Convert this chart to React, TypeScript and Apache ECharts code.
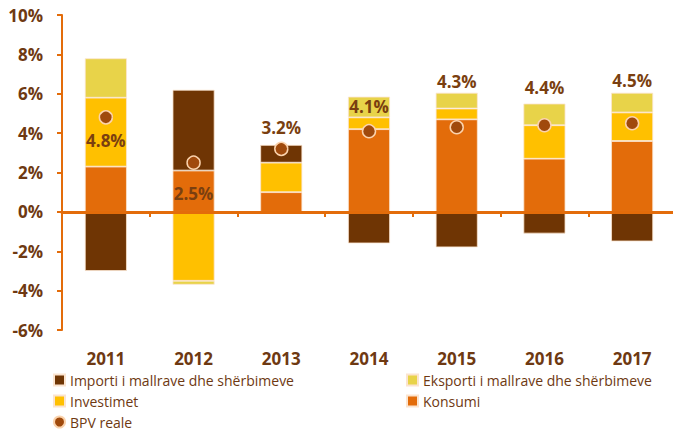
import React, { useEffect, useRef } from "react";
import * as echarts from "echarts";

const years = ["2011", "2012", "2013", "2014", "2015", "2016", "2017"];
const konsumi = [2.3, 2.1, 1.0, 4.2, 4.7, 2.7, 3.6];
const investimet = [3.5, -3.5, 1.5, 0.6, 0.55, 1.7, 1.45];
const importi = [-3.0, 4.1, 0.9, -1.6, -1.8, -1.1, -1.5];
const eksporti = [2.0, -0.2, -0.1, 1.05, 0.8, 1.1, 1.0];
const bpvReale = [4.8, 2.5, 3.2, 4.1, 4.3, 4.4, 4.5];

// vertical label shifts (px) for the GDP labels, relative to the marker
const labelShift = [23, 31, -21, -25, -46, -38, -43];

const FONT = "'Open Sans', 'Noto Sans', sans-serif";
const BROWN_TEXT = "#6e3912";

export default function App() {
  const ref = useRef<HTMLDivElement>(null);
  useEffect(() => {
    const chart = echarts.init(ref.current!, null, { renderer: "svg" });
    const barBase = {
      type: "bar" as const,
      stack: "total",
      barWidth: 42,
    };
    const border = { borderColor: "#fbe4cf", borderWidth: 0.8 };
    const legendText = { color: BROWN_TEXT, fontSize: 14, lineHeight: 14, fontFamily: FONT };
    chart.setOption({
      animation: false,
      textStyle: { fontFamily: FONT },
      grid: {
        left: 62,
        top: 15,
        bottom: 103,
        right: -3,
        containLabel: false,
        outerBoundsMode: "none",
      },
      legend: [
        {
          orient: "vertical",
          left: 53,
          top: 373,
          height: 70,
          itemWidth: 11,
          itemHeight: 11,
          itemGap: 7,
          padding: 0,
          textStyle: legendText,
          data: [
            { name: "Importi i mallrave dhe shërbimeve", icon: "rect" },
            { name: "Investimet", icon: "rect" },
            { name: "BPV reale", icon: "circle" },
          ],
        },
        {
          orient: "vertical",
          left: 406,
          top: 373,
          height: 70,
          itemWidth: 11,
          itemHeight: 11,
          itemGap: 7,
          padding: 0,
          textStyle: legendText,
          data: [
            { name: "Eksporti i mallrave dhe shërbimeve", icon: "rect" },
            { name: "Konsumi", icon: "rect" },
          ],
        },
      ],
      xAxis: {
        type: "category",
        data: years,
        axisLine: { onZero: true, lineStyle: { color: "#e36c0a", width: 3 } },
        axisTick: { show: true, length: 5, lineStyle: { color: "#e36c0a", width: 2 } },
        axisLabel: {
          margin: 20,
          color: BROWN_TEXT,
          fontSize: 17,
          lineHeight: 17,
          fontWeight: "bold",
          fontFamily: FONT,
        },
        z: 5,
      },
      yAxis: {
        type: "value",
        min: -6,
        max: 10,
        interval: 2,
        splitLine: { show: false },
        axisLine: { show: true, lineStyle: { color: "#e36c0a", width: 2 } },
        axisTick: { show: true, length: 5, lineStyle: { color: "#e36c0a", width: 2 } },
        axisLabel: {
          formatter: "{value}%",
          margin: 19,
          color: BROWN_TEXT,
          fontSize: 17,
          fontWeight: "bold",
          fontFamily: FONT,
        },
      },
      series: [
        {
          ...barBase,
          name: "Konsumi",
          data: konsumi,
          itemStyle: { color: "#e36c0a", ...border },
        },
        {
          ...barBase,
          name: "Investimet",
          data: investimet,
          itemStyle: { color: "#ffc000", ...border },
        },
        {
          ...barBase,
          name: "Importi i mallrave dhe shërbimeve",
          data: importi,
          itemStyle: { color: "#6f3504", ...border },
        },
        {
          ...barBase,
          name: "Eksporti i mallrave dhe shërbimeve",
          data: eksporti,
          itemStyle: { color: "#e8d349", ...border },
        },
        {
          type: "scatter",
          name: "BPV reale",
          symbol: "circle",
          symbolSize: 13,
          z: 10,
          itemStyle: {
            color: "#a04a0c",
            borderColor: "#fbd3ad",
            borderWidth: 1.5,
            opacity: 1,
          },
          label: {
            show: true,
            position: "inside",
            formatter: (p: any) => p.value.toFixed(1) + "%",
            color: "#7a3f10",
            opacity: 1,
            textBorderWidth: 0,
            textBorderColor: "transparent",
            fontSize: 17,
            fontWeight: "bold",
            fontFamily: FONT,
          },
          data: bpvReale.map((v, i) => ({
            value: v,
            label: { offset: [0, labelShift[i]] },
          })),
        },
      ],
    });
    return () => chart.dispose();
  }, []);
  return (
    <div
      ref={ref}
      style={{ position: "fixed", left: 0, top: 0, width: 673, height: 433, background: "#fff" }}
    />
  );
}
